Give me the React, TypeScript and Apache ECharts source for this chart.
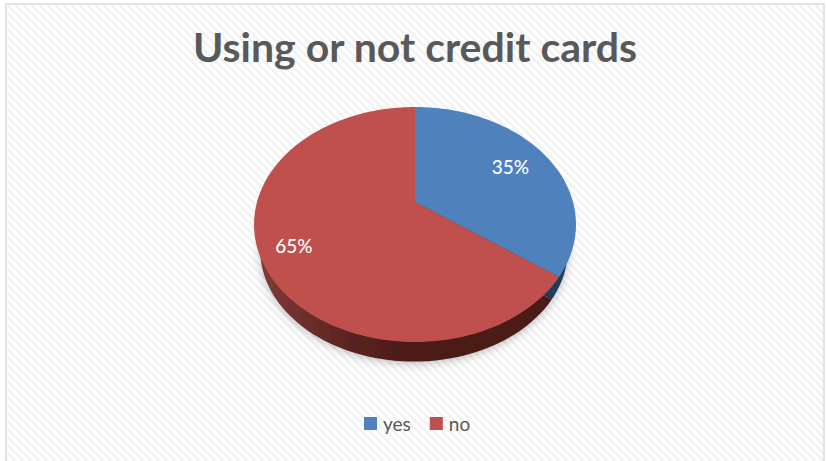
import React, { useEffect, useRef } from "react";
import * as echarts from "echarts";

const categories = ["yes", "no"];
const shares = [35, 65];
const faceColors = ["#4f81bd", "#c0504d"];

const titleText = "Using or not credit cards";
const fontFamily = "Lato, 'Open Sans', sans-serif";

// Tilted disc: a unit circle seen in perspective, with the hub off the ellipse centre.
const TILT = -0.1915;
const topDisc = { cx: 415, cy: 202, ax: 158, ay: 113.2 };
const bottomDisc = { cx: 414, cy: 228, ax: 151, ay: 108 };
const labelRadius = [0.72, 0.8];

function project(disc: typeof topDisc, angle: number, r: number): number[] {
  const u = Math.sin(angle) * r;
  const v = -Math.cos(angle) * r;
  const w = 1 + TILT * v;
  return [disc.cx + (disc.ax * u) / w, disc.cy + (disc.ay * v) / w];
}

function sliceRange(index: number): number[] {
  const total = shares.reduce((a, b) => a + b, 0);
  const before = shares.slice(0, index).reduce((a, b) => a + b, 0);
  return [(before / total) * Math.PI * 2, ((before + shares[index]) / total) * Math.PI * 2];
}

function sectorPoints(disc: typeof topDisc, index: number): number[][] {
  const [start, end] = sliceRange(index);
  const steps = Math.max(12, Math.round(((end - start) / (Math.PI * 2)) * 180));
  const points = [[disc.cx, disc.cy]];
  for (let i = 0; i <= steps; i++) {
    points.push(project(disc, start + ((end - start) * i) / steps, 1));
  }
  return points;
}

const wallFills = [
  new echarts.graphic.LinearGradient(0, 0, 1, 0, [
    { offset: 0, color: "#2c4a70" },
    { offset: 1, color: "#233b59" },
  ]),
  new echarts.graphic.LinearGradient(0, 0, 1, 0, [
    { offset: 0, color: "#803a37" },
    { offset: 0.3, color: "#5a2421" },
    { offset: 0.5, color: "#4c1b18" },
    { offset: 1, color: "#4c1b18" },
  ]),
];

function wallSeries(index: number) {
  return {
    type: "custom",
    name: `${categories[index]} wall`,
    coordinateSystem: "none",
    silent: true,
    z: 1,
    data: [shares[index]],
    renderItem: () => ({
      type: "polygon",
      shape: { points: sectorPoints(bottomDisc, index) },
      style: {
        fill: wallFills[index],
        shadowBlur: 8,
        shadowColor: "rgba(0,0,0,0.25)",
        shadowOffsetY: 2,
      },
    }),
  };
}

function faceSeries(index: number) {
  return {
    type: "custom",
    name: categories[index],
    coordinateSystem: "none",
    silent: true,
    z: 2,
    itemStyle: { color: faceColors[index] },
    data: [shares[index]],
    renderItem: (_params: unknown, api: any) => {
      const [start, end] = sliceRange(index);
      const [lx, ly] = project(topDisc, (start + end) / 2, labelRadius[index]);
      return {
        type: "group",
        children: [
          {
            type: "polygon",
            shape: { points: sectorPoints(topDisc, index) },
            style: { fill: faceColors[index] },
          },
          {
            type: "text",
            x: lx,
            y: ly - 1,
            z2: 5,
            style: {
              text: `${api.value(0)}%`,
              fill: "#ffffff",
              font: `500 19px ${fontFamily}`,
              align: "center",
              verticalAlign: "middle",
            },
          },
        ],
      };
    },
  };
}

export default function App() {
  const ref = useRef<HTMLDivElement>(null);

  useEffect(() => {
    const chart = echarts.init(ref.current!, undefined, { renderer: "svg" });
    chart.setOption({
      animation: false,
      backgroundColor: "transparent",
      title: {
        text: titleText,
        left: 410,
        top: 21,
        textAlign: "center",
        textStyle: { fontFamily, fontWeight: "bold", fontSize: 41, color: "#595959" },
      },
      legend: {
        data: categories,
        left: 359,
        top: 409,
        icon: "rect",
        itemWidth: 13,
        itemHeight: 13,
        itemGap: 19,
        textStyle: { fontFamily, fontSize: 19, color: "#595959", padding: [0, 0, 0, 1] },
      },
      series: [
        ...categories.map((_, i) => wallSeries(i)),
        ...categories.map((_, i) => faceSeries(i)),
      ],
    });
    return () => chart.dispose();
  }, []);

  return (
    <div style={{ position: "absolute", left: 0, top: 0, width: 826, height: 461, background: "#fff", overflow: "hidden" }}>
      <div
        style={{
          position: "absolute",
          left: 5,
          top: 3,
          width: 816,
          height: 470,
          border: "2px solid #e3e3e3",
          background: "repeating-linear-gradient(45deg, #ffffff 0px, #ffffff 2.83px, #f3f3f3 2.83px, #f3f3f3 5.66px)",
        }}
      />
      <div ref={ref} style={{ position: "absolute", left: 0, top: 0, width: 826, height: 461 }} />
    </div>
  );
}
